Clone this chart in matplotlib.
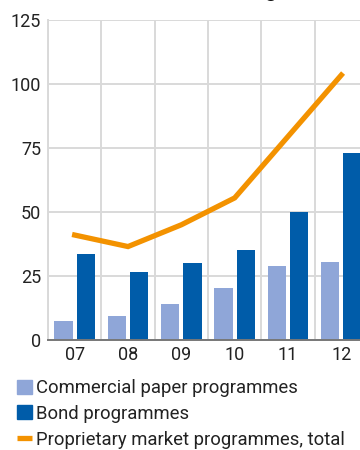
import numpy as np
import matplotlib
matplotlib.use("Agg")
import matplotlib.pyplot as plt
from matplotlib.patches import Patch
from matplotlib.lines import Line2D

# programme counts per year
years = ["07", "08", "09", "10", "11", "12"]
commercial_paper = [7.4, 9.4, 14.1, 20.3, 28.9, 30.5]
bond = [33.6, 26.6, 30.1, 35.2, 50.0, 73.0]
proprietary_total = [41.0, 36.5, 45.0, 55.5, 79.5, 103.5]
y_ticks = [0, 25, 50, 75, 100, 125]

light_blue = "#8fa6d8"
dark_blue = "#005ca9"
orange = "#f39200"
grid_col = "#d9d9d9"

plt.rcParams["font.family"] = ["Roboto", "DejaVu Sans"]
plt.rcParams["text.color"] = "#222222"

fig = plt.figure(figsize=(3.6, 4.5), dpi=100)
# axes runs past the right edge of the figure
ax = fig.add_axes([48 / 360, 110 / 450, 320 / 360, 320 / 450])

x = np.arange(len(years))
ax.bar(x - 0.21, commercial_paper, width=0.34, color=light_blue, zorder=2)
ax.bar(x + 0.21, bond, width=0.34, color=dark_blue, zorder=2)
ax.plot(x, proprietary_total, color=orange, lw=3.8, solid_joinstyle="miter", zorder=3)

ax.set_xlim(-0.5, 5.5)
ax.set_ylim(0, 125)
ax.set_yticks(y_ticks)
ax.set_xticks(x)
ax.set_xticklabels(years)
ax.set_xticks(np.arange(-0.5, 6, 1), minor=True)
ax.tick_params(axis="both", which="both", length=0, labelsize=13, colors="#222222")
ax.tick_params(axis="y", pad=5)
ax.tick_params(axis="x", pad=4)
ax.grid(axis="y", which="major", color=grid_col, lw=1.4, zorder=0)
ax.grid(axis="x", which="minor", color=grid_col, lw=1.4, zorder=0)
ax.grid(axis="x", which="major", visible=False)
for side in ["top", "right"]:
    ax.spines[side].set_visible(False)
ax.spines["left"].set_color(grid_col)
ax.spines["left"].set_linewidth(1.4)
ax.spines["bottom"].set_color("#777777")
ax.spines["bottom"].set_linewidth(1.4)
ax.spines["bottom"].set_zorder(4)

# title sits mostly above the visible area
fig.text(277 / 360, 1 + 3 / 450, "Market funding", ha="right", va="baseline",
         fontsize=15, fontweight="bold", color="#111111")

handles = [
    Patch(color=light_blue),
    Patch(color=dark_blue),
    Line2D([0], [0], color=orange, lw=3.8, solid_capstyle="butt"),
]
labels = ["Commercial paper programmes", "Bond programmes",
          "Proprietary market programmes, total"]
fig.legend(handles, labels, loc="upper left", bbox_to_anchor=(17 / 360, 1 - 379 / 450),
           frameon=False, fontsize=13.3, handlelength=0.8, handleheight=0.8,
           handletextpad=0.25, labelspacing=0.42, borderpad=0, borderaxespad=0)

fig.savefig("out.png", dpi=100)
